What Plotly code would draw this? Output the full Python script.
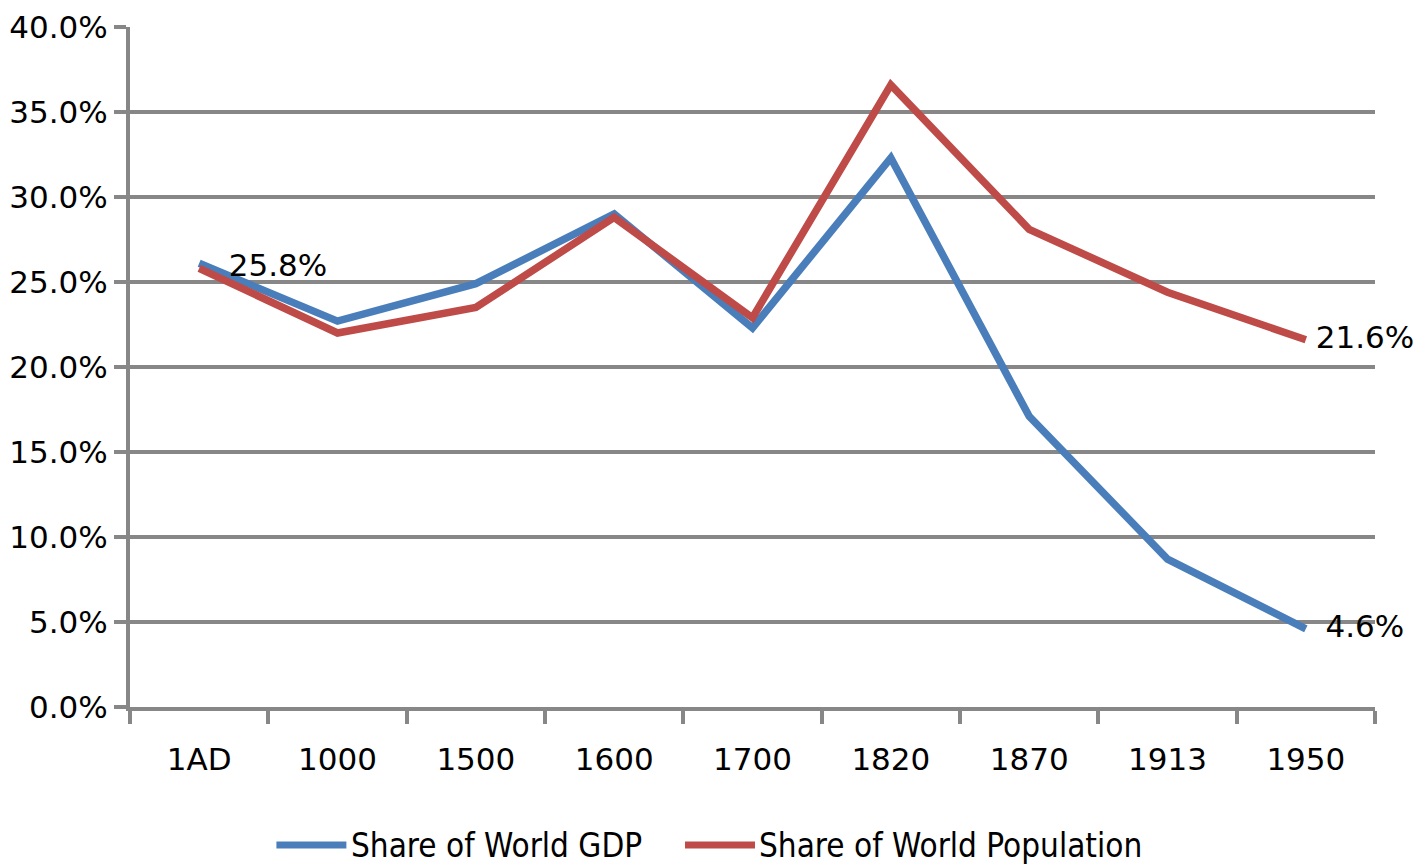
import plotly.graph_objects as go

# China's share of the world economy, 1 AD - 1950
periods = ["1AD", "1000", "1500", "1600", "1700", "1820", "1870", "1913", "1950"]
gdp_share = [26.1, 22.7, 24.9, 29.0, 22.3, 32.3, 17.1, 8.7, 4.6]
pop_share = [25.8, 22.0, 23.5, 28.8, 22.9, 36.6, 28.1, 24.4, 21.6]
series_names = ["Share of World GDP", "Share of World Population"]
y_ticks = [0, 5, 10, 15, 20, 25, 30, 35, 40]

BLUE = "#4A7EBB"
RED = "#BE4B48"
GRID = "#878787"
TEXT_FONT = "DejaVu Sans, Verdana, sans-serif"
LEGEND_FONT = "DejaVu Sans Condensed, Liberation Sans Narrow, Arial Narrow, sans-serif"
NBSP = "\u00a0"


def point_labels(values, pads):
    """Value labels for chosen points; pads maps index -> leading spaces."""
    return [NBSP * pads[i] + f"{v:.1f}%" if i in pads else ""
            for i, v in enumerate(values)]


last = len(periods) - 1
fig = go.Figure()
fig.add_trace(go.Scatter(
    x=periods, y=gdp_share, name=series_names[0], mode="lines+text",
    line=dict(color=BLUE, width=7.5),
    text=point_labels(gdp_share, {last: 2}),
    textposition="middle right",
    textfont=dict(family=TEXT_FONT, size=31, color="black"),
    cliponaxis=False, showlegend=False,
))
fig.add_trace(go.Scatter(
    x=periods, y=pop_share, name=series_names[1], mode="lines+text",
    line=dict(color=RED, width=7.5),
    text=point_labels(pop_share, {0: 3, last: 1}),
    textposition="middle right",
    textfont=dict(family=TEXT_FONT, size=31, color="black"),
    cliponaxis=False, showlegend=False,
))

# Legend drawn below the axis: line sample followed by the series name
legend_items = [(0.1176, BLUE, series_names[0]), (0.4458, RED, series_names[1])]
sample_len = 0.0562
legend_y = -0.203
for x0, color, label in legend_items:
    fig.add_shape(type="line", xref="paper", yref="paper",
                  x0=x0, x1=x0 + sample_len, y0=legend_y, y1=legend_y,
                  line=dict(color=color, width=7))
    fig.add_annotation(xref="paper", yref="paper", x=x0 + sample_len + 0.002,
                       y=legend_y, xanchor="left", yanchor="middle",
                       text=label, showarrow=False,
                       font=dict(family=LEGEND_FONT, size=33, color="black"))

fig.update_layout(
    width=1426, height=866,
    margin=dict(l=130, r=51, t=27, b=159),
    paper_bgcolor="white", plot_bgcolor="white",
    font=dict(family=TEXT_FONT, size=31, color="black"),
    xaxis=dict(
        type="category", range=[-0.5, len(periods) - 0.5],
        tickson="boundaries", ticks="outside", ticklen=13, tickwidth=4,
        tickcolor=GRID, showgrid=False, showline=True, linecolor=GRID,
        linewidth=4, zeroline=False, ticklabelstandoff=22, automargin=False,
        tickfont=dict(family=TEXT_FONT, size=31, color="black"),
    ),
    yaxis=dict(
        range=[0, 40], tickvals=y_ticks,
        ticktext=[f"{v:.1f}%" for v in y_ticks],
        ticks="outside", ticklen=12, tickwidth=4, tickcolor=GRID,
        showgrid=True, gridcolor=GRID, gridwidth=4,
        showline=True, linecolor=GRID, linewidth=4, zeroline=False,
        ticklabelstandoff=0, automargin=False,
        tickfont=dict(family=TEXT_FONT, size=31, color="black"),
    ),
)

fig.write_html("out.html")
